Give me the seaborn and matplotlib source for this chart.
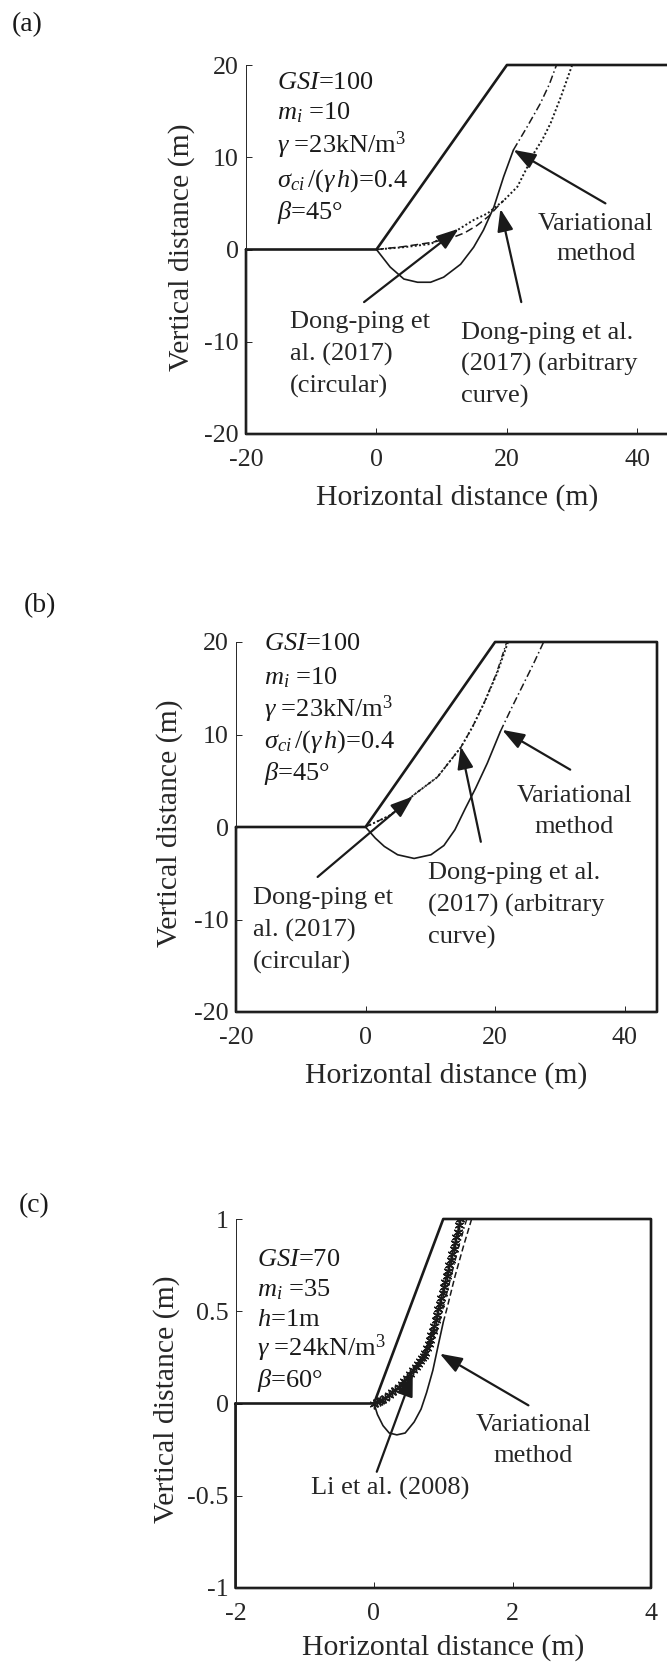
import numpy as np
import pandas as pd
import matplotlib
matplotlib.use("Agg")
import matplotlib.pyplot as plt
import seaborn as sns

sns.set_theme(style="white")
plt.rcParams["font.family"] = ["Liberation Serif", "DejaVu Serif"]
plt.rcParams["mathtext.fontset"] = "custom"
plt.rcParams["mathtext.rm"] = "Liberation Serif"
plt.rcParams["mathtext.it"] = "Liberation Serif:italic"
plt.rcParams["mathtext.bf"] = "Liberation Serif:bold"

# ---------------- data ----------------
# (a) slope geometry and slip surfaces
slope_a_x = [-20, 0, 20, 45, 45, -20, -20]
slope_a_y = [0, 0, 20, 20, -20, -20, 0]
var_a_x = [0, 2.1, 4.2, 6.3, 8.3, 10.3, 12.9, 14.9, 16.4, 18.0, 19.5, 21.0]
var_a_y = [0, -1.9, -3.2, -3.55, -3.55, -3.0, -1.6, 0.25, 2.1, 4.6, 7.9, 10.8]
var_a_ext_x = [21.0, 23.1, 25.1, 26.5, 27.6]
var_a_ext_y = [10.8, 13.3, 15.8, 17.9, 20.0]
circ_a_x = [0, 4.0, 8.3, 11.3, 13.5, 15.4, 17.2, 18.5, 19.5]
circ_a_y = [0, 0.3, 0.75, 1.2, 1.8, 2.6, 3.6, 4.6, 5.3]
arb_a_x = [0, 4.2, 8.3, 12.4, 14.9, 17.0, 19.5, 21.6, 23.1, 24.1, 25.5, 26.7, 28.3, 30.0]
arb_a_y = [0, 0.25, 0.6, 2.1, 3.2, 3.9, 5.3, 6.8, 8.9, 10.4, 12.0, 13.7, 16.6, 20.0]

# (b)
slope_b_x = [-20, 0, 20, 45, 45, -20, -20]
slope_b_y = [0, 0, 20, 20, -20, -20, 0]
var_b_x = [0, 1.5, 2.9, 4.95, 7.5, 10.1, 12.1, 13.8, 15.4, 17.0, 18.8, 20.8]
var_b_y = [0, -1.2, -2.1, -3.0, -3.4, -3.0, -2.0, -0.3, 2.0, 4.2, 6.9, 10.3]
var_b_ext_x = [20.8, 22.5, 24.2, 25.9, 27.5]
var_b_ext_y = [10.3, 12.8, 15.2, 17.6, 20.0]
circ_b_x = [0, 3.9, 7.5, 11.1, 14.7, 16.5, 18.3, 20.2, 21.8]
circ_b_y = [0, 1.3, 3.5, 5.4, 8.6, 10.8, 13.4, 16.6, 20.0]
arb_b_x = [0, 3.9, 7.5, 11.1, 14.7, 16.5, 18.3, 20.3, 22.0]
arb_b_y = [0, 1.3, 3.5, 5.4, 8.6, 10.8, 13.4, 16.6, 20.0]

# (c)
slope_c_x = [-2, 0, 1, 4, 4, -2, -2]
slope_c_y = [0, 0, 1, 1, -1, -1, 0]
var_c_x = [0, 0.05, 0.13, 0.22, 0.33, 0.45, 0.58, 0.68, 0.76, 0.85, 0.93, 1.0]
var_c_y = [0, -0.06, -0.12, -0.16, -0.17, -0.16, -0.10, -0.03, 0.06, 0.18, 0.32, 0.44]
var_c_ext_x = [1.0, 1.05, 1.17, 1.29, 1.41]
var_c_ext_y = [0.44, 0.51, 0.69, 0.85, 1.0]
alt_c_x = [0.90, 1.00, 1.12, 1.23, 1.34]
alt_c_y = [0.38, 0.52, 0.70, 0.86, 1.0]
li_c_x = [0.00, 0.04, 0.08, 0.12, 0.16, 0.21, 0.26, 0.31, 0.36, 0.40, 0.44, 0.48,
          0.52, 0.56, 0.60, 0.63, 0.66, 0.69, 0.72, 0.74, 0.77, 0.79, 0.81, 0.83,
          0.85, 0.87, 0.89, 0.91, 0.93, 0.95, 0.97, 0.99, 1.01, 1.03, 1.05, 1.07,
          1.09, 1.11, 1.13, 1.15, 1.17, 1.19, 1.21, 1.23, 1.24]
li_c_y = [0.00, 0.01, 0.015, 0.02, 0.03, 0.045, 0.06, 0.075, 0.09, 0.105, 0.12, 0.14,
          0.16, 0.18, 0.20, 0.215, 0.23, 0.245, 0.26, 0.275, 0.30, 0.32, 0.345, 0.37,
          0.395, 0.42, 0.45, 0.48, 0.51, 0.54, 0.57, 0.60, 0.63, 0.66, 0.69, 0.72,
          0.75, 0.78, 0.81, 0.84, 0.87, 0.90, 0.93, 0.97, 1.00]

# axis ticks
ticks_ab_x = [-20, 0, 20, 40]
ticks_ab_y = [-20, -10, 0, 10, 20]
ticks_c_x = [-2, 0, 2, 4]
ticks_c_y = [-1, -0.5, 0, 0.5, 1]

params_ab = [r"$\it{GSI}$=100", r"$m_i$ =10", r"$\gamma$ =23kN/m$^3$",
             r"$\sigma_{ci}\,/(\gamma\,h)$=0.4", r"$\beta$=45°"]
params_c = [r"$\it{GSI}$=70", r"$m_i$ =35", r"$h$=1m", r"$\gamma$ =24kN/m$^3$",
            r"$\beta$=60°"]

# ---------------- figure ----------------
W, H = 667, 1664
fig = plt.figure(figsize=(W / 100, H / 100), dpi=100)
fig.patch.set_facecolor("white")


def box(l, r, t, b):
    return [l / W, 1 - b / H, (r - l) / W, (b - t) / H]


ax_a = fig.add_axes(box(246, 670, 65, 434))
ax_b = fig.add_axes(box(236, 657, 642, 1012))
ax_c = fig.add_axes(box(235.5, 651, 1219, 1588))

GREY = "#262626"
TICK_FS = 18.7
LAB_FS = 21.4
ANN_FS = 19
LS = 1.52


def line(ax, x, y, lw=1.1, ls="-", clip=True, **kw):
    sns.lineplot(x=x, y=y, sort=False, estimator=None, color="k",
                 linewidth=lw, linestyle=ls, ax=ax, legend=False, **kw)
    ax.lines[-1].set_clip_on(clip)


def arrow(ax, tail, head):
    ax.annotate("", xy=head, xytext=tail,
                arrowprops=dict(arrowstyle="-|>,head_length=0.75,head_width=0.27",
                                lw=1.6, color="k", shrinkA=0, shrinkB=0,
                                mutation_scale=18))


def style_axes(ax, xlim, ylim, xt, yt, xlab_pos, ylab_pos):
    ax.set_xlim(*xlim)
    ax.set_ylim(*ylim)
    ax.set_xticks(xt)
    ax.set_yticks(yt)
    ax.set_xticklabels([f"{v:g}" for v in xt])
    ax.set_yticklabels([f"{v:g}" for v in yt])
    ax.set_facecolor("none")
    for s in ["top", "right"]:
        ax.spines[s].set_visible(False)
    for s in ["left", "bottom"]:
        ax.spines[s].set_color(GREY)
        ax.spines[s].set_linewidth(0.7)
    ax.tick_params(axis="both", direction="in", length=4, width=0.7,
                   colors=GREY, labelsize=TICK_FS, labelcolor=GREY)
    ax.tick_params(axis="x", pad=11)
    ax.tick_params(axis="y", pad=5)
    ax.tick_params(left=True, bottom=True)
    ax.set_xlabel("Horizontal distance (m)", fontsize=LAB_FS, color=GREY)
    ax.set_ylabel("Vertical distance (m)", fontsize=LAB_FS, color=GREY)
    ax.xaxis.label.set_verticalalignment("center")
    ax.yaxis.label.set_verticalalignment("center")
    ax.xaxis.set_label_coords(*xlab_pos)
    ax.yaxis.set_label_coords(*ylab_pos)
    ax.grid(False)


def params(ax, x, ys, lines):
    for yy, s in zip(ys, lines):
        ax.text(x, yy, s, fontsize=ANN_FS, color="k", ha="left", va="baseline")


# ---- (a) ----
line(ax_a, slope_a_x, slope_a_y, lw=1.9, clip=False)
line(ax_a, var_a_x, var_a_y, lw=1.2)
line(ax_a, var_a_ext_x, var_a_ext_y, lw=1.1, ls=(0, (5, 2, 1, 2)))
line(ax_a, circ_a_x, circ_a_y, lw=1.1, ls=(0, (5, 2.5)))
line(ax_a, arb_a_x, arb_a_y, lw=1.4, ls=(0, (1, 1.2)))
style_axes(ax_a, (-20, 45), (-20, 20), ticks_ab_x, ticks_ab_y,
           (0.498, -0.171), (-0.151, 0.507))
params(ax_a, -15.2, [17.4, 14.1, 10.5, 6.8, 3.3], params_ab)
arrow(ax_a, (35.1, 5.0), (21.0, 10.8))
arrow(ax_a, (-1.9, -5.7), (12.6, 2.25))
arrow(ax_a, (22.2, -5.7), (19.0, 4.4))
ax_a.text(33.6, 1.14, "Variational\nmethod", fontsize=ANN_FS, ha="center",
          va="center", linespacing=LS)
ax_a.text(-13.2, -11.4, "Dong-ping et\nal. (2017)\n(circular)", fontsize=ANN_FS,
          ha="left", va="center", linespacing=LS)
ax_a.text(12.9, -12.5, "Dong-ping et al.\n(2017) (arbitrary\ncurve)", fontsize=ANN_FS,
          ha="left", va="center", linespacing=LS)

# ---- (b) ----
line(ax_b, slope_b_x, slope_b_y, lw=1.9, clip=False)
line(ax_b, var_b_x, var_b_y, lw=1.2)
line(ax_b, var_b_ext_x, var_b_ext_y, lw=1.1, ls=(0, (5, 2, 1, 2)))
line(ax_b, circ_b_x, circ_b_y, lw=1.0, ls=(0, (4, 2, 1, 2)))
line(ax_b, arb_b_x, arb_b_y, lw=1.4, ls=(0, (1, 1.2)))
style_axes(ax_b, (-20, 45), (-20, 20), ticks_ab_x, ticks_ab_y,
           (0.50, -0.173), (-0.157, 0.511))
params(ax_b, -15.6, [19.1, 15.4, 11.9, 8.6, 5.1], params_ab)
arrow(ax_b, (31.6, 6.2), (21.1, 10.5))
arrow(ax_b, (-7.4, -5.4), (7.3, 3.3))
arrow(ax_b, (17.8, -1.6), (14.7, 8.7))
ax_b.text(32.2, 1.7, "Variational\nmethod", fontsize=ANN_FS, ha="center",
          va="center", linespacing=LS)
ax_b.text(-17.4, -11.2, "Dong-ping et\nal. (2017)\n(circular)", fontsize=ANN_FS,
          ha="left", va="center", linespacing=LS)
ax_b.text(9.6, -8.5, "Dong-ping et al.\n(2017) (arbitrary\ncurve)", fontsize=ANN_FS,
          ha="left", va="center", linespacing=LS)

# ---- (c) ----
line(ax_c, slope_c_x, slope_c_y, lw=1.9, clip=False)
line(ax_c, var_c_x, var_c_y, lw=1.2)
line(ax_c, var_c_ext_x, var_c_ext_y, lw=1.1, ls=(0, (4, 2)))
line(ax_c, alt_c_x, alt_c_y, lw=1.0, ls=(0, (4, 2, 1, 2)))
line(ax_c, li_c_x, li_c_y, lw=1.2, marker=(6, 2, 0), markersize=7,
     markeredgewidth=1.0, markeredgecolor="k")
style_axes(ax_c, (-2, 4), (-1, 1), ticks_c_x, ticks_c_y,
           (0.50, -0.16), (-0.165, 0.512))
params(ax_c, -1.69, [0.744, 0.582, 0.419, 0.256, 0.087], params_c)
arrow(ax_c, (2.23, -0.01), (0.95, 0.27))
arrow(ax_c, (0.04, -0.37), (0.56, 0.16))
ax_c.text(2.30, -0.20, "Variational\nmethod", fontsize=ANN_FS, ha="center",
          va="center", linespacing=LS)
ax_c.text(0.23, -0.46, "Li et al. (2008)", fontsize=ANN_FS, ha="center", va="center")

# panel letters
for lab, (px, py) in zip(["(a)", "(b)", "(c)"], [(27, 25), (40, 606), (34, 1206)]):
    fig.text(px / W, 1 - py / H, lab, fontsize=20, ha="center", va="center", color="k")

fig.savefig("out.png", dpi=100, facecolor="white")
